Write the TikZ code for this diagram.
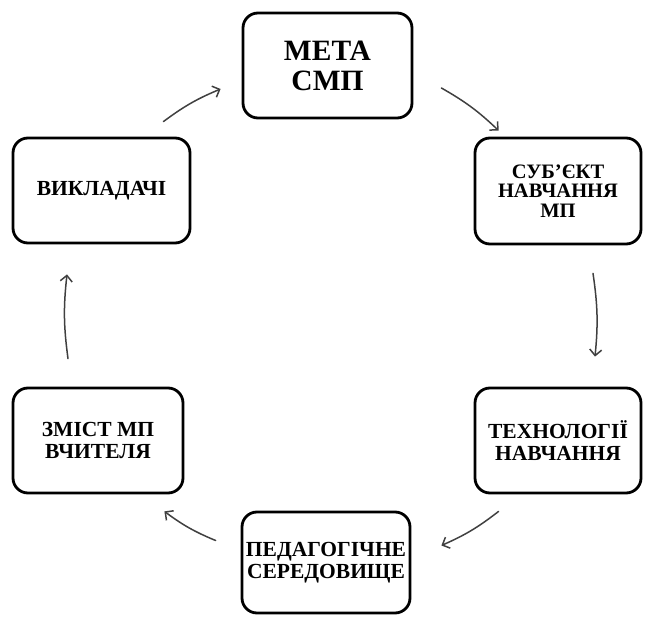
\documentclass[tikz,border=0pt]{standalone}
\usepackage{fontspec}
\setmainfont{Liberation Serif}
\usetikzlibrary{arrows.meta}
\tikzset{
  box/.style={draw=black, line width=2.8pt, rounded corners=15pt, fill=white,
    align=center, inner sep=0pt, font=\bfseries\fontsize{21.5}{22.5}\selectfont},
  cyc/.style={draw=black!75, line width=1.5pt, line cap=round,
    -{Straight Barb[length=6pt,width=12pt,line width=1.5pt]}, bend left=7}
}
\begin{document}
\begin{tikzpicture}[x=1pt,y=1pt]
\useasboundingbox (0,0) rectangle (645,616);

\node[box, minimum width=169pt, minimum height=105pt,
  font=\bfseries\fontsize{29.5}{30}\selectfont] (meta) at (327.5,550.5) {МЕТА\\СМП};
\node[box, minimum width=166pt, minimum height=106pt,
  font=\bfseries\fontsize{20.5}{19.5}\selectfont] (subj) at (558,425) {СУБ'ЄКТ\\НАВЧАННЯ\\МП};
\node[box, minimum width=166pt, minimum height=105pt] (tech) at (558,175.5) {ТЕХНОЛОГІЇ\\НАВЧАННЯ};
\node[box, minimum width=168pt, minimum height=101pt] (ped) at (326,53.5) {ПЕДАГОГІЧНЕ\\СЕРЕДОВИЩЕ};
\node[box, minimum width=170pt, minimum height=105pt] (zmist) at (98,175.5) {ЗМІСТ МП\\ВЧИТЕЛЯ};
\node[box, minimum width=177pt, minimum height=105pt] (vik) at (101.5,425.5) {ВИКЛАДАЧІ};

% cycle of arrows, clockwise
\draw[cyc] ([shift={(-28,15)}]vik.north east) to ([shift={(-21,-23.5)}]meta.west);
\draw[cyc] ([shift={(28,-22.5)}]meta.east) to ([shift={(25,6)}]subj.north west);
\draw[cyc] ([shift={(35,-28)}]subj.south) to ([shift={(37,30)}]tech.north);
\draw[cyc] ([shift={(25,-17)}]tech.south west) to ([shift={(30,17)}]ped.east);
\draw[cyc] ([shift={(-25,22)}]ped.west) to ([shift={(-20,-17)}]zmist.south east);
\draw[cyc] ([shift={(-30,28)}]zmist.north) to ([shift={(-34.5,-30)}]vik.south);
\end{tikzpicture}
\end{document}
